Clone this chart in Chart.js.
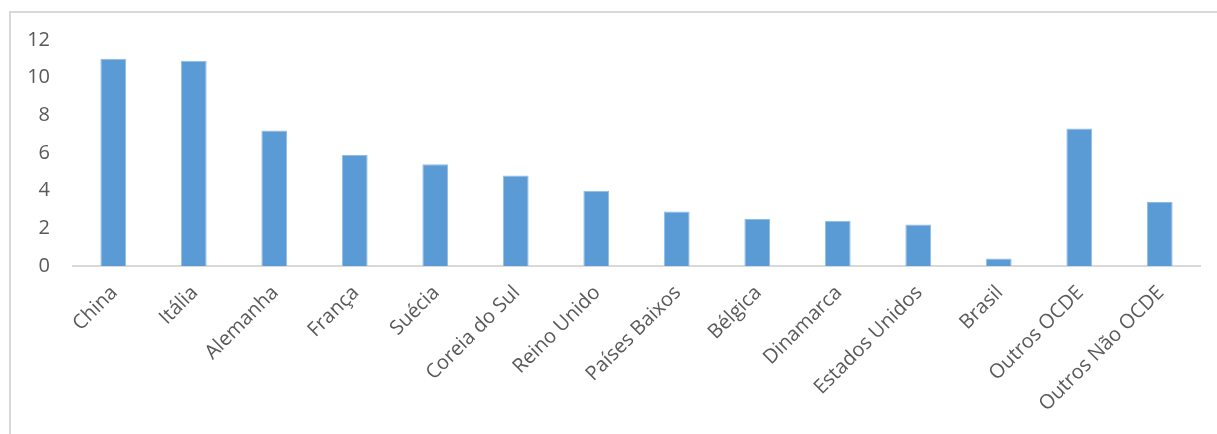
<!DOCTYPE html>
<html>
<head>
<meta charset="utf-8">
<script src="https://cdn.jsdelivr.net/npm/chart.js@4/dist/chart.umd.min.js"></script>
<style>
  html, body { margin: 0; padding: 0; background: #fff; overflow: hidden; }
  #frame { position: absolute; left: 9px; top: 11px; width: 1300px; height: 500px;
           border-left: 2px solid #d9d9d9; border-top: 2px solid #d9d9d9; }
  #wrap { position: absolute; left: 0; top: 0; width: 1217px; height: 434px; }
</style>
</head>
<body>
<div id="frame"></div>
<div id="wrap"><canvas id="c" width="1217" height="434"></canvas></div>
<script>
const categories = ["China", "Itália", "Alemanha", "França", "Suécia", "Coreia do Sul", "Reino Unido",
  "Países Baixos", "Bélgica", "Dinamarca", "Estados Unidos", "Brasil", "Outros OCDE", "Outros Não OCDE"];
const values = [11.0, 10.9, 7.2, 5.9, 5.4, 4.8, 4.0, 2.9, 2.5, 2.4, 2.2, 0.4, 7.3, 3.4];
const yTicks = [0, 2, 4, 6, 8, 10, 12];

const textColor = "#595959";
const fontFamily = "'Open Sans', 'Noto Sans', sans-serif";

new Chart(document.getElementById("c"), {
  type: "bar",
  data: {
    labels: categories,
    datasets: [{
      data: values,
      backgroundColor: "#5b9bd5",
      borderColor: "#8fbce6",
      borderWidth: 1,
      categoryPercentage: 1,
      barPercentage: 0.32
    }]
  },
  options: {
    responsive: false,
    animation: false,
    devicePixelRatio: 1,
    layout: { padding: { left: 0, right: 17, top: 40, bottom: 0 } },
    plugins: { legend: { display: false }, tooltip: { enabled: false } },
    scales: {
      x: {
        grid: { display: false, drawTicks: false },
        border: { display: true, color: "#d9d9d9", width: 2 },
        ticks: {
          color: textColor,
          font: { family: fontFamily, size: 20 },
          minRotation: 45, maxRotation: 45,
          autoSkip: false,
          labelOffset: 1,
          padding: 15
        },
        afterFit: (s) => { s.height = 434 - 266; }
      },
      y: {
        min: 0, max: 12,
        afterBuildTicks: (s) => { s.ticks = yTicks.map(v => ({ value: v })); },
        grid: { display: false, drawTicks: false },
        border: { display: false },
        ticks: {
          color: textColor,
          font: { family: fontFamily, size: 20 },
          padding: 23
        },
        afterFit: (s) => { s.width = 73; }
      }
    }
  }
});
</script>
</body>
</html>
